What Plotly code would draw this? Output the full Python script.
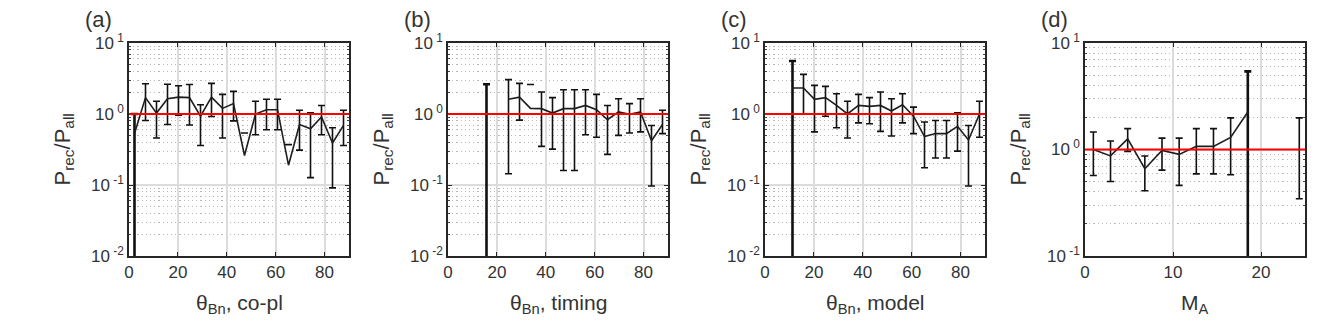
import plotly.graph_objects as go

# bin centres
theta_bins = [2.25, 6.75, 11.25, 15.75, 20.25, 24.75, 29.25, 33.75, 38.25, 42.75,
              47.25, 51.75, 56.25, 60.75, 65.25, 69.75, 74.25, 78.75, 83.25, 87.75]
ma_bins = [0.95, 2.9, 4.85, 6.8, 8.75, 10.7, 12.65, 14.6, 16.55, 18.5, 20.45, 22.4, 24.35]

# (a) theta_Bn, co-planarity
ratio_a = [0.53, 1.7, 1.03, 1.64, 1.73, 1.7, 0.93, 1.73, 1.2, 1.4,
           0.26, 1.0, 1.15, 1.15, 0.19, 0.71, 0.62, 0.91, 0.39, 0.69]
hi_a = [1.0, 2.67, 1.51, 2.62, 2.5, 2.6, 1.35, 2.7, 1.89, 2.08,
        0.54, 1.51, 1.61, 1.61, 0.37, 1.13, 1.04, 1.32, 0.64, 1.13]
lo_a = [-1.0, 0.81, 0.46, 0.71, 0.96, 0.70, 0.36, 0.92, 0.46, 0.8,
        0.54, 0.51, 0.6, 0.6, 0.37, 0.31, 0.127, 0.51, 0.091, 0.36]

# (b) theta_Bn, timing
ratio_b = [None, None, None, None, None, 1.61, 1.73, 1.2, 1.19, 1.03,
           1.19, 1.19, 1.32, 1.15, 0.83, 1.07, 0.99, 1.07, 0.42, 0.71]
hi_b = [None, None, None, 2.62, None, 3.05, 2.7, 2.6, 2.04, 1.7,
        2.2, 2.2, 2.2, 1.89, 1.32, 1.64, 1.4, 1.64, 0.69, 1.13]
lo_b = [None, None, None, -1.0, None, 0.144, 0.82, 2.6, 0.35, 0.32,
        0.16, 0.16, 0.51, 0.47, 0.27, 0.5, 0.54, 0.56, 0.097, 0.53]

# (c) theta_Bn, model
ratio_c = [None, None, 2.32, 2.32, 1.61, 1.7, 1.32, 1.0, 1.32, 1.28,
           1.32, 1.1, 1.35, 0.93, 0.48, 0.53, 0.53, 0.67, 0.43, 1.0]
hi_c = [None, None, 5.58, 3.62, 2.53, 2.45, 1.93, 1.51, 1.89, 1.7,
        2.04, 1.64, 1.93, 1.25, 0.77, 0.81, 0.81, 1.04, 0.69, 1.51]
lo_c = [None, None, -1.0, 1.0, 0.56, 0.93, 0.64, 0.46, 0.75, 0.73,
        0.57, 0.49, 0.75, 0.53, 0.175, 0.24, 0.24, 0.3, 0.097, 0.47]

# (d) M_A
ratio_d = [1.0, 0.87, 1.26, 0.66, 0.98, 0.9, 1.07, 1.07, 1.3, 2.25, None, None, 1.16]
hi_d = [1.46, 1.2, 1.57, 0.87, 1.28, 1.28, 1.57, 1.57, 1.98, 5.42, None, None, 1.98]
lo_d = [0.57, 0.5, 0.96, 0.41, 0.64, 0.46, 0.59, 0.59, 0.58, -1.0, None, None, 0.345]

panels = [
    dict(label="(a)", x=theta_bins, r=ratio_a, hi=hi_a, lo=lo_a, xtitle="θ<sub>Bn</sub>, co-pl",
         xrange=[0, 90], xticks=[0, 20, 40, 60, 80], ydec=[-2, -1, 0, 1], dom=[121, 341]),
    dict(label="(b)", x=theta_bins, r=ratio_b, hi=hi_b, lo=lo_b, xtitle="θ<sub>Bn</sub>, timing",
         xrange=[0, 90], xticks=[0, 20, 40, 60, 80], ydec=[-2, -1, 0, 1], dom=[440, 660]),
    dict(label="(c)", x=theta_bins, r=ratio_c, hi=hi_c, lo=lo_c, xtitle="θ<sub>Bn</sub>, model",
         xrange=[0, 90], xticks=[0, 20, 40, 60, 80], ydec=[-2, -1, 0, 1], dom=[757, 977]),
    dict(label="(d)", x=ma_bins, r=ratio_d, hi=hi_d, lo=lo_d, xtitle="M<sub>A</sub>",
         xrange=[0, 25], xticks=[0, 10, 20], ydec=[-1, 0, 1], dom=[1077, 1297]),
]

W, H = 1330, 335
TOP, BOT = 35, 248
FONT = "Liberation Sans, Arial, sans-serif"
TXT = "#333333"

fig = go.Figure()
annotations = []
shapes = []

for i, p in enumerate(panels):
    n = "" if i == 0 else str(i + 1)
    xa, ya = "x" + n, "y" + n

    # error bars: cap at top, shoe at the lower bound (no shoe if bound < 0)
    for thick in (False, True):
        ex, ey, em = [], [], []
        for xv, h, l in zip(p["x"], p["hi"], p["lo"]):
            if h is None:
                continue
            if (l <= 0) != thick:
                continue
            ex.append(xv)
            ey.append(h)
            em.append(h - l)
        if not ex:
            continue
        fig.add_trace(go.Scatter(
            x=ex, y=ey, mode="markers", xaxis=xa, yaxis=ya,
            marker=dict(size=1, color="rgba(0,0,0,0)"),
            error_y=dict(type="data", symmetric=False, array=[0] * len(ex), arrayminus=em,
                         color="#111111", thickness=2.6 if thick else 1.6, width=3.5),
            showlegend=False, hoverinfo="skip"))

    fig.add_trace(go.Scatter(
        x=p["x"], y=p["r"], mode="lines", xaxis=xa, yaxis=ya,
        line=dict(color="#1e1e1e", width=1.6), connectgaps=False,
        showlegend=False))

    d0, d1 = p["dom"]
    minor_vals = [m * 10 ** e for e in p["ydec"][:-1] for m in range(2, 10)]
    fig.update_layout(**{
        "xaxis" + n: dict(
            domain=[d0 / W, d1 / W], anchor=ya, range=p["xrange"],
            tickvals=p["xticks"], ticks="inside", ticklen=4, tickcolor="#262626",
            showline=True, linecolor="#262626", linewidth=1.5, mirror="allticks",
            showgrid=True, gridcolor="#dcdcdc", gridwidth=1.5, zeroline=False,
            tickfont=dict(family=FONT, size=17, color=TXT), automargin=False),
        "yaxis" + n: dict(
            domain=[1 - BOT / H, 1 - TOP / H], anchor=xa, type="log",
            range=[p["ydec"][0], p["ydec"][-1]],
            tickvals=[10 ** e for e in p["ydec"]],
            ticktext=["10<sup> %d</sup>" % e for e in p["ydec"]],
            ticks="inside", ticklen=4, tickcolor="#262626",
            showline=True, linecolor="#262626", linewidth=1.5, mirror="allticks",
            showgrid=True, gridcolor="#dcdcdc", gridwidth=1.5, zeroline=False,
            minor=dict(tickvals=minor_vals, ticks="inside", ticklen=2.5, tickcolor="#444444",
                       showgrid=True, griddash="1.2px,3px", gridcolor="#b8b8b8", gridwidth=1.2),
            tickfont=dict(family=FONT, size=17, color=TXT), automargin=False),
    })

    # reference line at ratio = 1
    shapes.append(dict(type="line", xref=xa + " domain", yref=ya, x0=0, x1=1, y0=1, y1=1,
                       line=dict(color="#ff0000", width=2), layer="above"))

    annotations += [
        dict(text=p["label"], xref=xa + " domain", yref=ya + " domain", x=-0.14, y=1.108,
             showarrow=False, xanchor="center", yanchor="middle",
             font=dict(family=FONT, size=22, color=TXT)),
        dict(text=p["xtitle"], xref=xa + " domain", yref=ya + " domain", x=0.5, y=-0.225,
             showarrow=False, xanchor="center", yanchor="middle",
             font=dict(family=FONT, size=21, color=TXT)),
        dict(text="P<sub>rec</sub>/P<sub>all</sub>", xref=xa + " domain", yref=ya + " domain",
             x=-0.30, y=0.5, textangle=-90, showarrow=False, xanchor="center", yanchor="middle",
             font=dict(family=FONT, size=22, color=TXT)),
    ]

fig.update_layout(
    width=W, height=H,
    margin=dict(l=0, r=0, t=0, b=0),
    paper_bgcolor="white", plot_bgcolor="white",
    shapes=shapes, annotations=annotations,
    showlegend=False,
)

fig.write_html("out.html")
